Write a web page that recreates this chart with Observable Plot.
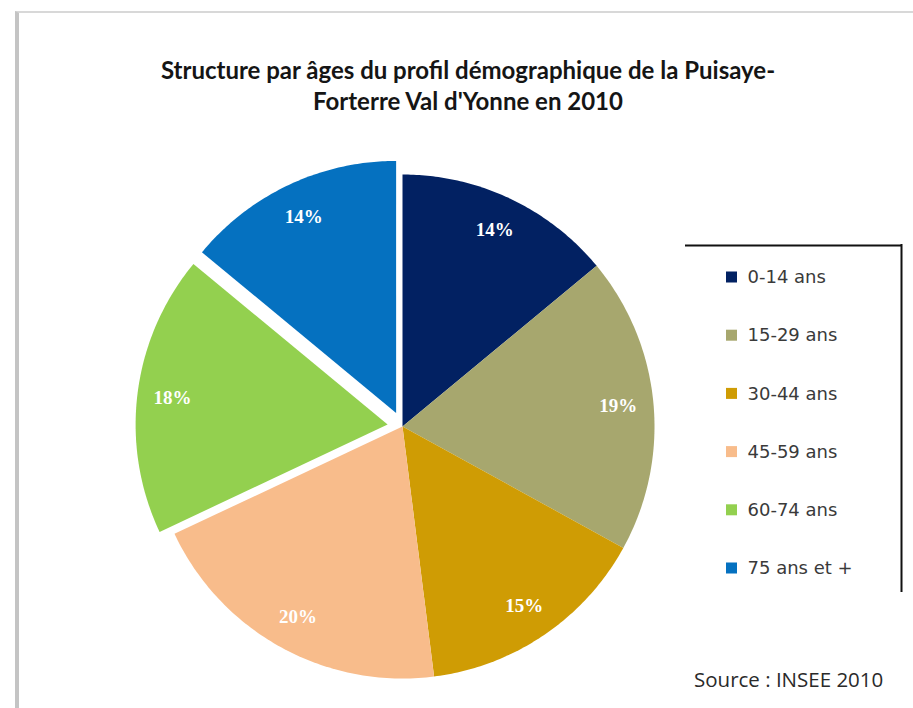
<!DOCTYPE html>
<html><head><meta charset="utf-8">
<script src="https://cdn.jsdelivr.net/npm/d3@7"></script>
<script src="https://cdn.jsdelivr.net/npm/@observablehq/plot@0.6"></script>
<style>
body{margin:0;background:#fff;}
#wrap{position:relative;width:913px;height:708px;overflow:hidden;background:#fff;}
#frame{position:absolute;left:15px;top:11px;width:920px;height:720px;border-left:4px solid #c4c4c4;border-top:2px solid #d8d8d8;}
#chart{position:absolute;left:0;top:0;}
#title{position:absolute;left:0;width:936px;top:54px;text-align:center;font-family:Lato,sans-serif;font-weight:bold;font-size:24px;line-height:31px;color:#151515;}
#source{position:absolute;left:694px;top:667px;font-family:"Open Sans",sans-serif;font-size:20.5px;line-height:24px;color:#2a2a2a;white-space:nowrap;}
</style>
</head><body>
<div id="wrap">
  <div id="frame"></div>
  <div id="chart"></div>
  <div id="title">Structure par âges du profil démographique de la Puisaye-<br>Forterre Val d'Yonne en 2010</div>
  <div id="source">Source : INSEE 2010</div>
</div>
<script>
const categories = ["0-14 ans", "15-29 ans", "30-44 ans", "45-59 ans", "60-74 ans", "75 ans et +"];
const shares = [14, 19, 15, 20, 18, 14];
const sliceLabels = ["14%", "19%", "15%", "20%", "18%", "14%"];
const exploded = [false, false, false, false, true, true];
const colors = ["#022162", "#a7a76e", "#cf9c04", "#f8bc8b", "#93d04f", "#0571c0"];

// layout
const W = 913, H = 708;
const cx = 402, cy = 426, R = 252, explode = 15, labelR = 0.86 * R;

const arcs = d3.pie().sort(null).value(d => d)(shares);
const slicePts = [];
const labelPts = [];
arcs.forEach((a, i) => {
  const mid = (a.startAngle + a.endAngle) / 2;
  const ox = exploded[i] ? explode * Math.sin(mid) : 0;
  const oy = exploded[i] ? -explode * Math.cos(mid) : 0;
  const c0 = cx + ox, c1 = cy + oy;
  slicePts.push({cat: categories[i], x: c0, y: c1});
  const n = 80;
  for (let k = 0; k <= n; k++) {
    const ang = a.startAngle + (a.endAngle - a.startAngle) * k / n;
    slicePts.push({cat: categories[i], x: c0 + R * Math.sin(ang), y: c1 - R * Math.cos(ang)});
  }
  slicePts.push({cat: categories[i], x: c0, y: c1});
  labelPts.push({label: sliceLabels[i], x: c0 + labelR * Math.sin(mid), y: c1 - labelR * Math.cos(mid)});
});

// legend layout
const legX = 726, legY0 = 277, legStep = 58.2, sq = 11;
const legend = categories.map((c, i) => ({cat: c, y: legY0 + i * legStep}));

const chart = Plot.plot({
  width: W, height: H, margin: 0,
  x: {domain: [0, W], range: [0, W], axis: null},
  y: {domain: [0, H], range: [0, H], axis: null},
  color: {domain: categories, range: colors},
  marks: [
    Plot.line(slicePts, {x: "x", y: "y", z: "cat", fill: "cat", stroke: "none", curve: "linear"}),
    Plot.text(labelPts, {x: "x", y: "y", text: "label", fill: "white", fontSize: 19, fontFamily: "Liberation Serif", fontWeight: "bold"}),
    Plot.ruleY([245], {x1: 685, x2: 901, stroke: "#111", strokeWidth: 2}),
    Plot.ruleX([901], {y1: 244, y2: 592, stroke: "#111", strokeWidth: 2}),
    Plot.rect(legend, {x1: legX, x2: legX + sq, y1: d => d.y - sq / 2, y2: d => d.y + sq / 2, fill: "cat"}),
    Plot.text(legend, {x: legX + sq + 10, y: "y", text: "cat", textAnchor: "start", fill: "#3a3a3a", fontSize: 18, fontFamily: "DejaVu Sans", letterSpacing: "0.8px"})
  ]
});
document.getElementById("chart").appendChild(chart);
</script>
</body></html>
